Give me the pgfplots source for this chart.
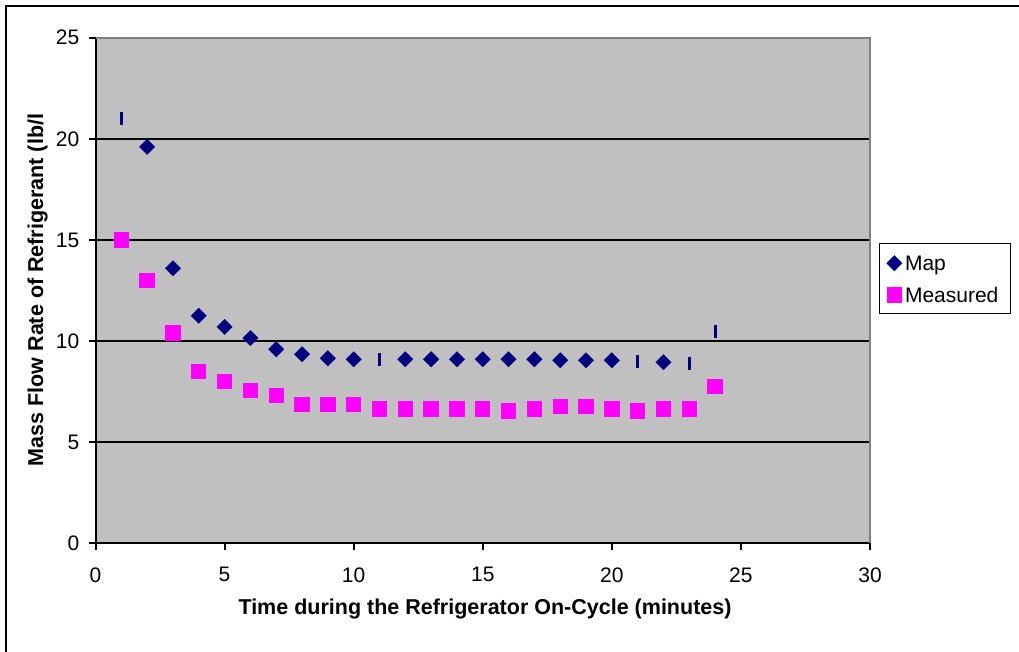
\documentclass[border=0pt]{standalone}
\usepackage{pgfplots}
\pgfplotsset{compat=1.18}
\usepackage{fontspec}
\setmainfont{Liberation Sans}
\definecolor{plotgray}{HTML}{C0C0C0}
\definecolor{bordergray}{HTML}{808080}
\definecolor{navyc}{HTML}{000080}
\definecolor{magc}{HTML}{FF00FF}
\newcommand{\bigf}{\fontsize{21pt}{25pt}\selectfont}
\newcommand{\labf}{\fontsize{21.5pt}{25pt}\selectfont\bfseries}
\begin{document}
\bigf
\begin{tikzpicture}[x=1pt,y=1pt,font=\bigf]
\useasboundingbox (0,0) rectangle (1019,652);
\draw[line width=2pt] (6,-10) -- (6,646) -- (1030,646);
\begin{axis}[
  at={(95.5pt,108.7pt)}, anchor=south west, scale only axis,
  width=774.5pt, height=505.6pt,
  xmin=0, xmax=30, ymin=0, ymax=25,
  xtick={0,5,...,30}, ytick={0,5,...,25},
  axis x line*=bottom, axis y line*=left,
  axis line style={line width=2pt, -},
  tick align=outside, major tick length=7pt,
  every tick/.style={black, line width=2pt},
  ymajorgrids, major grid style={black, line width=2pt},
  axis background/.style={fill=plotgray},
  /pgf/number format/assume math mode=true,
  ticklabel style={font=\bigf},
  yticklabel style={xshift=-2pt},
  xticklabel style={yshift=-10pt},
  legend style={at={(rel axis cs:1.0116,0.594)}, anchor=north west,
    draw=black, line width=1.5pt, font=\bigf, fill=white,
    inner xsep=7pt, inner ysep=8pt, nodes={inner sep=0pt, anchor=base west},
    row sep=9.6pt, column sep=3pt},
  legend image code/.code={
    \path[draw=none, fill=none] (-7pt,-2pt) rectangle (7pt,19pt);
    \draw[line width=0.4pt,#1] plot coordinates {(0pt,7.5pt)};
  },
  after end axis/.code={
    \draw[bordergray, line width=2pt] (rel axis cs:0,1) -- (rel axis cs:1,1) -- (rel axis cs:1,0);
  },
]
\addplot[only marks, mark=square*, color=navyc, mark size=5.4pt,
  mark options={rotate=45, line width=0.4pt, draw=navyc, fill=navyc}]
  coordinates {
  (2,19.6) (3,13.6) (4,11.25) (5,10.7) (6,10.15) (7,9.6) (8,9.35) (9,9.15)
  (10,9.1) (12,9.1) (13,9.1) (14,9.1) (15,9.1) (16,9.1) (17,9.1)
  (18,9.05) (19,9.05) (20,9.05) (22,8.95)
  };
\addlegendentry{Map}
\addplot[only marks, mark=|, color=navyc, mark size=6.5pt,
  mark options={line width=3pt}, forget plot]
  coordinates {
  (1,21.0) (11,9.07) (21,8.98) (23,8.9) (24,10.45)
  };
\addplot[only marks, mark=square*, color=magc, mark size=7.2pt,
  mark options={line width=0pt, draw=magc, fill=magc}]
  coordinates {
  (1,15.0) (2,13.0) (3,10.4) (4,8.5) (5,8.0) (6,7.55) (7,7.3) (8,6.85)
  (9,6.85) (10,6.85) (11,6.65) (12,6.65) (13,6.65) (14,6.65) (15,6.65)
  (16,6.55) (17,6.65) (18,6.75) (19,6.75) (20,6.65) (21,6.55) (22,6.65)
  (23,6.65) (24,7.75)
  };
\addlegendentry{Measured\hspace*{5pt}}
\end{axis}
\node[anchor=base, font=\labf] at (485,37) {Time during the Refrigerator On-Cycle (minutes)};
\node[anchor=base, rotate=90, font=\labf] at (43,362) {Mass Flow Rate of Refrigerant (lb/l};
\end{tikzpicture}
\end{document}
